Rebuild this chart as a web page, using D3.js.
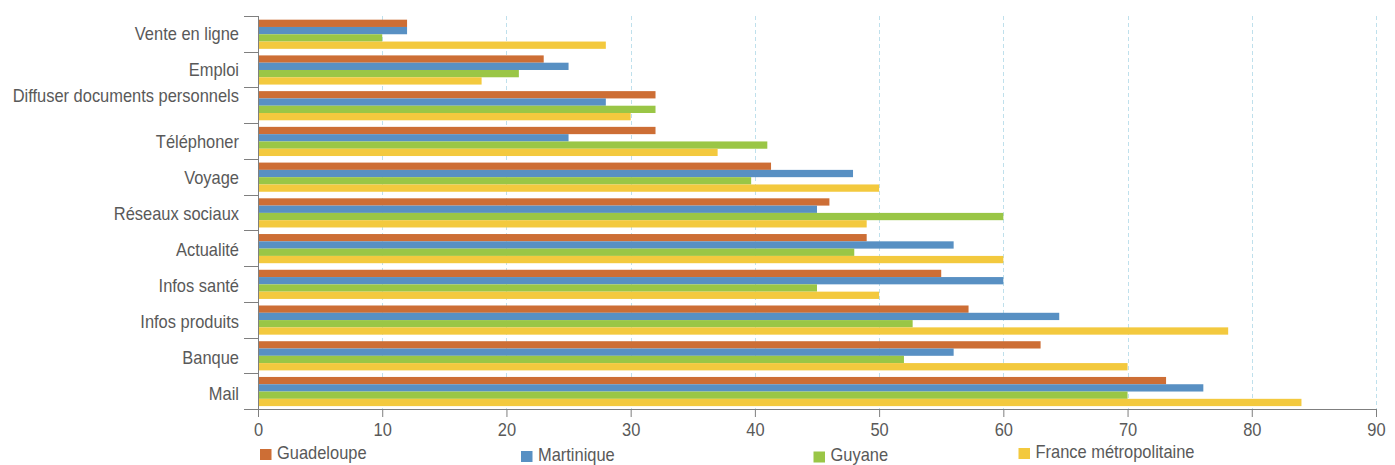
<!DOCTYPE html>
<html><head><meta charset="utf-8">
<script src="https://cdn.jsdelivr.net/npm/d3@7"></script>
<style>
html,body{margin:0;padding:0;background:#fff;}
text{font-family:"Liberation Sans",Arial,sans-serif;fill:#595959;}
</style></head>
<body><svg id="chart" width="1395" height="465"></svg>
<script>
const categories = ["Vente en ligne","Emploi","Diffuser documents personnels","Téléphoner","Voyage","Réseaux sociaux","Actualité","Infos santé","Infos produits","Banque","Mail"];
const seriesNames = ["Guadeloupe","Martinique","Guyane","France métropolitaine"];
const guadeloupe = [12,23,32,32,41.3,46,49,55,57.2,63,73.1];
const martinique = [12,25,28,25,47.9,45,56,60,64.5,56,76.1];
const guyane = [10,21,32,41,39.7,60,48,45,52.7,52,70];
const franceMetro = [28,18,30,37,50,49,60,50,78.1,70,84];
const xTicks = [0,10,20,30,40,50,60,70,80,90];
const colors = ["#CD6E35","#5890C3","#9AC646","#F3C93E"];

const series = [guadeloupe, martinique, guyane, franceMetro];
const svg = d3.select("#chart");
const m = {left:258, right:1376, top:16, bottom:409};
const FS = "17.5px", SX = 0.94;

const x = d3.scaleLinear().domain([0,90]).range([m.left, m.right]);
const y = d3.scaleBand().domain(categories).range([m.top, m.bottom]).paddingInner(0).paddingOuter(0);
const inner = d3.scaleBand().domain(d3.range(4)).range([0, y.bandwidth()]).paddingOuter(0.45).paddingInner(0).align(0.56);
const yLabel = d3.scalePoint().domain(categories).range([34.5, 394.7]);

// grid
svg.append("g").selectAll("line").data(xTicks.filter(d=>d>0)).join("line")
  .attr("x1", d=>Math.round(x(d))+0.5).attr("x2", d=>Math.round(x(d))+0.5)
  .attr("y1", m.top).attr("y2", m.bottom)
  .attr("stroke", "#bfe0ec").attr("stroke-width", 1).attr("stroke-dasharray", "4,3");

// bars
categories.forEach((c, i) => {
  const g = svg.append("g").attr("transform", `translate(0,${y(c)})`);
  g.selectAll("rect").data(series.map((s, k) => ({k, v: s[i]}))).join("rect")
    .attr("x", x(0)).attr("y", d => inner(d.k))
    .attr("width", d => x(d.v) - x(0)).attr("height", inner.bandwidth())
    .attr("fill", d => colors[d.k]);
});

// y axis
const yAxisG = svg.append("g");
yAxisG.append("line").attr("x1", m.left+0.5).attr("x2", m.left+0.5).attr("y1", m.top).attr("y2", m.bottom)
  .attr("stroke", "#7f7f7f");
const bounds = categories.map(c => y(c));
yAxisG.selectAll("line.tk").data(bounds).join("line").attr("class","tk")
  .attr("x1", m.left-14).attr("x2", m.left).attr("y1", d=>Math.round(d)+0.5).attr("y2", d=>Math.round(d)+0.5)
  .attr("stroke", "#7f7f7f");
yAxisG.selectAll("text").data(categories).join("text")
  .attr("transform", d => `translate(239,${yLabel(d) + (d === "Diffuser documents personnels" ? -10.5 : 0)}) scale(${SX},1)`)
  .attr("text-anchor", "end").attr("dominant-baseline", "central")
  .style("font-size", FS).text(d => d);

// x axis
const xAxis = d3.axisBottom(x).tickValues(xTicks).tickSize(8).tickPadding(7).tickSizeOuter(0);
const xg = svg.append("g").attr("transform", `translate(0,${m.bottom})`).call(xAxis);
xg.select(".domain").attr("stroke", "#7f7f7f").attr("d", `M${m.left-14},0.5H${m.right+1}`);
xg.selectAll(".tick line").attr("stroke", "#7f7f7f");
xg.selectAll(".tick text").style("font-size", FS).style("font-family", null).attr("fill", null)
  .attr("transform", `scale(${SX},1)`).attr("x", function(){ return 0; });
xg.selectAll(".tick").each(function(){
  const t = d3.select(this);
  const tr = t.attr("transform");
  const tx = +tr.match(/translate\(([-\d.]+)/)[1];
  t.attr("transform", `translate(${tx},0)`);
});

// legend
const legendPos = [{x:260, y:449, ty:453.7},{x:521, y:451, ty:455.8},{x:813.5, y:451.5, ty:455.5},{x:1018.5, y:448, ty:452}];
const lg = svg.append("g");
seriesNames.forEach((n, k) => {
  const p = legendPos[k];
  lg.append("rect").attr("x", p.x).attr("y", p.y).attr("width", 11.5).attr("height", 11).attr("fill", colors[k]);
  lg.append("text").attr("transform", `translate(${p.x + 17},${p.ty}) scale(${SX},1)`).attr("dominant-baseline", "central")
    .style("font-size", FS).text(n);
});
</script></body></html>
